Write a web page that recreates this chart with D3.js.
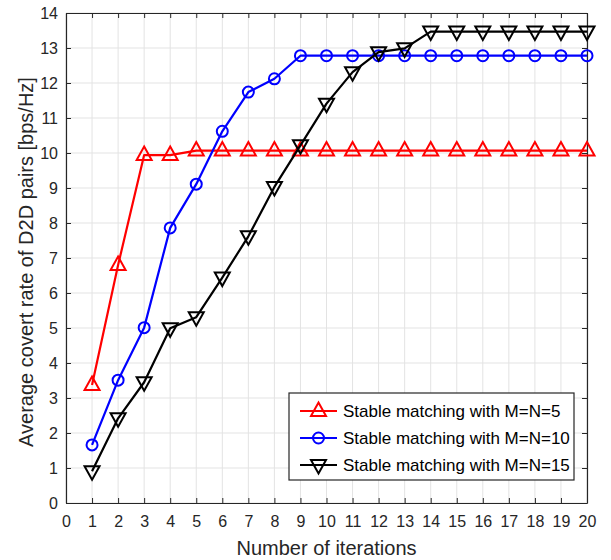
<!DOCTYPE html>
<html>
<head>
<meta charset="utf-8">
<script src="https://cdn.jsdelivr.net/npm/d3@7"></script>
<style>
  html, body { margin: 0; padding: 0; background: #fff; }
  text { font-family: "Liberation Sans", Arial, Helvetica, sans-serif; }
</style>
</head>
<body>
<svg id="chart" width="611" height="560"></svg>
<script>
// Iteration index and average covert rate per configuration
const iterations = d3.range(1, 21);
const rateM5  = [3.37, 6.80, 9.94, 9.94, 10.07, 10.07, 10.07, 10.07, 10.07, 10.07, 10.07, 10.07, 10.07, 10.07, 10.07, 10.07, 10.07, 10.07, 10.07, 10.07];
const rateM10 = [1.66, 3.51, 5.01, 7.86, 9.11, 10.62, 11.74, 12.12, 12.78, 12.78, 12.78, 12.78, 12.78, 12.78, 12.78, 12.78, 12.78, 12.78, 12.78, 12.78];
const rateM15 = [0.91, 2.42, 3.45, 4.99, 5.31, 6.44, 7.62, 9.03, 10.22, 11.41, 12.31, 12.88, 12.99, 13.47, 13.47, 13.47, 13.47, 13.47, 13.47, 13.47];
const xTicks = d3.range(0, 21);
const yTicks = d3.range(0, 15);
const seriesNames = ["Stable matching with M=N=5", "Stable matching with M=N=10", "Stable matching with M=N=15"];

const series = [
  { name: seriesNames[0], values: rateM5,  color: "#ff0000", marker: "up" },
  { name: seriesNames[1], values: rateM10, color: "#0000ff", marker: "circle" },
  { name: seriesNames[2], values: rateM15, color: "#000000", marker: "down" }
];

const svg = d3.select("#chart");
const plotL = 66, plotR = 587, plotT = 13, plotB = 503;

const x = d3.scaleLinear().domain([0, 20]).range([plotL, plotR]);
const y = d3.scaleLinear().domain([0, 14]).range([plotB, plotT]);

// grid
const grid = svg.append("g");
grid.selectAll("line.gx").data(xTicks).join("line")
  .attr("x1", d => x(d)).attr("x2", d => x(d))
  .attr("y1", plotT).attr("y2", plotB)
  .attr("stroke", "#e3e3e3").attr("stroke-width", 1);
grid.selectAll("line.gy").data(yTicks).join("line")
  .attr("x1", plotL).attr("x2", plotR)
  .attr("y1", d => y(d)).attr("y2", d => y(d))
  .attr("stroke", "#e3e3e3").attr("stroke-width", 1);

// axes with inward ticks
const tickLen = 5;
const axisColor = "#262626";
const xAxis = svg.append("g").attr("transform", `translate(0,${plotB})`)
  .call(d3.axisBottom(x).tickValues(xTicks).tickSizeInner(-tickLen).tickSizeOuter(0).tickPadding(13));
const yAxis = svg.append("g").attr("transform", `translate(${plotL},0)`)
  .call(d3.axisLeft(y).tickValues(yTicks).tickSizeInner(-tickLen).tickSizeOuter(0).tickPadding(8));
const xTop = svg.append("g").attr("transform", `translate(0,${plotT})`)
  .call(d3.axisTop(x).tickValues(xTicks).tickSizeInner(-tickLen).tickSizeOuter(0).tickFormat(""));
const yRight = svg.append("g").attr("transform", `translate(${plotR},0)`)
  .call(d3.axisRight(y).tickValues(yTicks).tickSizeInner(-tickLen).tickSizeOuter(0).tickFormat(""));

[xAxis, yAxis, xTop, yRight].forEach(a => {
  a.select(".domain").attr("stroke", axisColor).attr("stroke-width", 1.2);
  a.selectAll(".tick line").attr("stroke", axisColor).attr("stroke-width", 1);
  a.selectAll(".tick text").attr("fill", axisColor).style("font-size", "16px")
    .style("font-family", "'Liberation Sans', Arial, sans-serif");
});

// series lines and markers
const line = d3.line().x((d, i) => x(iterations[i])).y(d => y(d));
const triUp = "M0,-8.5L7.5,5L-7.5,5Z";
const triDown = "M0,8.5L7.5,-5L-7.5,-5Z";

function drawMarker(g, type, color) {
  if (type === "circle") {
    g.append("circle").attr("r", 5.5).attr("fill", "none")
      .attr("stroke", color).attr("stroke-width", 2);
  } else {
    g.append("path").attr("d", type === "up" ? triUp : triDown)
      .attr("fill", "none").attr("stroke", color).attr("stroke-width", 2)
      .attr("stroke-linejoin", "miter");
  }
}

series.forEach(s => {
  svg.append("path").datum(s.values)
    .attr("d", line).attr("fill", "none")
    .attr("stroke", s.color).attr("stroke-width", 2.2)
    .attr("stroke-linejoin", "round");
  s.values.forEach((v, i) => {
    const g = svg.append("g").attr("transform", `translate(${x(iterations[i])},${y(v)})`);
    drawMarker(g, s.marker, s.color);
  });
});

// legend
const legX = 289, legY = 393, legW = 285, legH = 87;
const legend = svg.append("g");
legend.append("rect").attr("x", legX).attr("y", legY).attr("width", legW).attr("height", legH)
  .attr("fill", "#fff").attr("stroke", axisColor).attr("stroke-width", 1.2);
series.forEach((s, i) => {
  const cy = legY + 18 + i * 27;
  legend.append("line").attr("x1", legX + 11).attr("x2", legX + 48)
    .attr("y1", cy).attr("y2", cy).attr("stroke", s.color).attr("stroke-width", 2.2);
  const g = legend.append("g").attr("transform", `translate(${legX + 29.5},${cy})`);
  drawMarker(g, s.marker, s.color);
  legend.append("text").attr("x", legX + 54).attr("y", cy).attr("dy", "0.35em")
    .attr("fill", "#000").style("font-size", "17px").text(s.name);
});

// axis titles
svg.append("text").attr("x", (plotL + plotR) / 2).attr("y", 555)
  .attr("text-anchor", "middle").attr("fill", axisColor).style("font-size", "20px")
  .text("Number of iterations");
svg.append("text").attr("transform", `translate(33,262) rotate(-90)`)
  .attr("text-anchor", "middle").attr("fill", axisColor).style("font-size", "20px")
  .text("Average covert rate of D2D pairs [bps/Hz]");
</script>
</body>
</html>
